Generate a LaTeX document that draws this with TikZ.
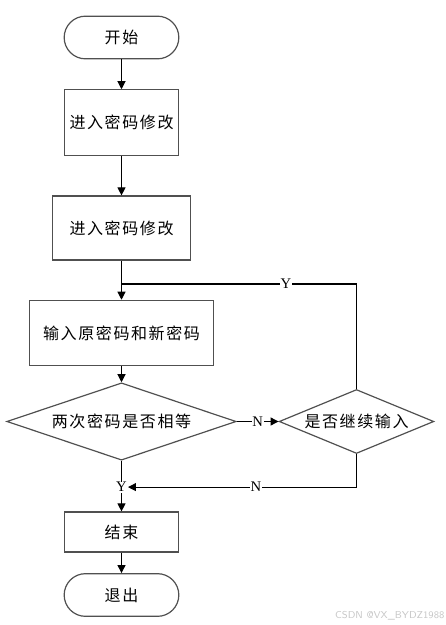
\documentclass[tikz,border=0pt]{standalone}
\usepackage{fontspec}
\usepackage{tikz}
\usepackage{xcolor}
\usetikzlibrary{arrows.meta,calc,positioning,shapes.geometric}
\setmainfont{Liberation Serif}
\newfontfamily\cjk[LetterSpace=10]{Noto Sans CJK SC}
\definecolor{boxgray}{RGB}{80,80,80}
\definecolor{markgray}{RGB}{200,200,200}

\begin{document}
\begin{tikzpicture}[x=0.75pt,y=-0.75pt,>={Triangle[length=6pt,width=6pt]},
		stepbox/.style={draw=boxgray,line width=0.9pt,inner sep=0pt,font=\cjk\fontsize{12}{14}\selectfont},
		termbox/.style={stepbox,rounded corners=16pt},
		choice/.style={stepbox,shape=diamond,aspect=3},
		flow/.style={->,line width=0.8pt},
		yn/.style={fill=white,inner sep=0.5pt,font=\fontsize{11}{12}\selectfont}]
		\useasboundingbox (0,0) rectangle (446,625);
		\node[termbox,minimum width=86pt,minimum height=32pt] (start) at (121.5,37.5) {开始};
		\node[stepbox,minimum width=86pt,minimum height=49pt] (enter1) at (121.5,122.5) {进入密码修改};
		\node[stepbox,minimum width=103pt,minimum height=48pt] (enter2) at (121.5,228) {进入密码修改};
		\node[stepbox,minimum width=138pt,minimum height=49pt] (input) at (121.5,333) {输入原密码和新密码};
		\node[choice,minimum width=172pt,minimum height=58pt] (same) at (121.5,421.5) {两次密码是否相等};
		\node[choice,minimum width=116pt,minimum height=48pt] (again) at (356.5,421.5) {是否继续输入};
		\node[stepbox,minimum width=86pt,minimum height=30pt] (over) at (121.5,532) {结束};
		\node[termbox,minimum width=86pt,minimum height=32pt] (quit) at (121.5,595) {退出};
		\coordinate (join) at (121.5,284);
		% main line
		\draw[flow] (start) -- (enter1);
		\draw[flow] (enter1) -- (enter2);
		\draw[flow] (enter2) -- (input);
		\draw[flow] (input) -- (same);
		\draw[flow] (same) -- node[yn]{N} (again);
		\draw[flow] (same) -- node[yn,pos=0.52] (yes){Y} (over);
		\draw[flow] (over) -- (quit);
		% back loops
		\draw[line width=0.8pt] (again.north) |- node[yn,pos=0.65]{Y} (join);
		\draw[flow] (again.south) |- node[yn,pos=0.72]{N} (yes.east);
		\node[anchor=south east,inner sep=1pt,text=markgray,font=\sffamily\fontsize{7.5}{9}\selectfont] (mark) at (446,622) {CSDN @VX\_BYDZ1988};
\end{tikzpicture}
\end{document}
